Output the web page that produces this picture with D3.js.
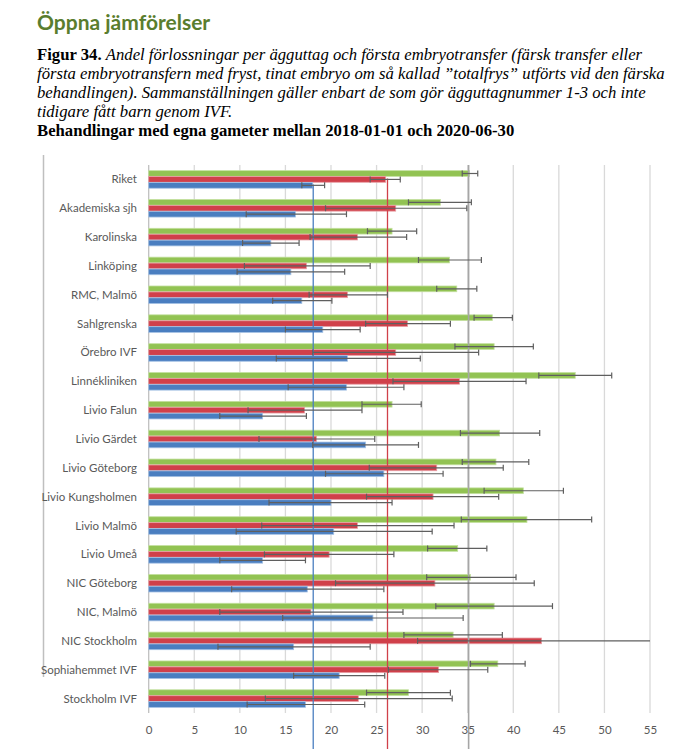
<!DOCTYPE html>
<html>
<head>
<meta charset="utf-8">
<script src="https://cdn.jsdelivr.net/npm/d3@7/dist/d3.min.js"></script>
<style>
  body { margin: 0; background: #fff; }
  svg { display: block; }
</style>
</head>
<body>
<svg id="chart"></svg>
<script>
"use strict";
// kliniker, uppifrån och ned
var categories = ["Riket", "Akademiska sjh", "Karolinska", "Linköping", "RMC, Malmö",
  "Sahlgrenska", "Örebro IVF", "Linnékliniken", "Livio Falun", "Livio Gärdet",
  "Livio Göteborg", "Livio Kungsholmen", "Livio Malmö", "Livio Umeå", "NIC Göteborg",
  "NIC, Malmö", "NIC Stockholm", "Sophiahemmet IVF", "Stockholm IVF"];

var greenValues = [35.2, 32.0, 26.7, 33.0, 33.8, 37.7, 37.9, 46.8, 26.7, 38.5, 38.1, 41.1, 41.5, 33.9, 35.3, 37.9, 33.4, 38.3, 28.5];
var greenLow    = [34.4, 28.5, 24.0, 29.6, 31.6, 35.7, 33.6, 42.8, 23.4, 34.2, 34.4, 36.8, 34.3, 30.6, 30.5, 31.5, 28.0, 35.3, 23.9];
var greenHigh   = [36.1, 35.4, 29.4, 36.5, 36.0, 39.9, 42.2, 50.8, 29.9, 42.9, 41.7, 45.5, 48.6, 37.1, 40.3, 44.3, 38.8, 41.3, 33.1];

var redValues = [26.0, 27.1, 22.9, 17.3, 21.8, 28.4, 27.1, 34.1, 17.1, 18.4, 31.6, 31.2, 22.9, 19.8, 31.4, 17.8, 43.1, 31.8, 23.0];
var redLow    = [24.3, 19.4, 17.7, 10.5, 17.6, 23.8, 18.0, 26.8, 10.9, 12.1, 24.2, 23.9, 12.4, 12.7, 20.5, 7.8, 29.5, 26.3, 12.8];
var redHigh   = [27.6, 34.9, 28.3, 24.3, 26.2, 33.1, 36.2, 41.4, 23.4, 24.8, 38.9, 38.4, 33.5, 26.9, 42.3, 27.9, 55.0, 37.2, 33.3];

var blueValues = [18.0, 16.1, 13.4, 15.6, 16.8, 19.1, 21.8, 21.7, 12.5, 23.8, 25.8, 20.0, 20.3, 12.5, 17.4, 24.6, 15.9, 20.9, 17.2];
var blueLow    = [16.8, 10.7, 10.3, 9.7, 13.6, 15.0, 14.0, 15.3, 7.8, 18.0, 19.4, 13.2, 9.6, 7.8, 9.1, 14.7, 7.6, 15.9, 10.8];
var blueHigh   = [19.3, 21.7, 16.5, 21.5, 20.1, 23.2, 29.8, 28.0, 17.3, 29.6, 32.3, 26.7, 31.1, 17.2, 25.8, 34.5, 24.3, 25.9, 23.7];

// riksgenomsnitt som referenslinjer
var refValues = [35.1, 26.2, 18.05];
var xTicks = [0, 5, 10, 15, 20, 25, 30, 35, 40, 45, 50, 55];

var W = 698, H = 749;
var plotLeft = 148.7, plotRight = 650, plotTop = 165, plotBottom = 713;

var svg = d3.select("#chart").attr("width", W).attr("height", H);

// rubrik
svg.append("text").attr("x", 37).attr("y", 30)
  .style("font-family", "Lato").style("font-weight", "700").style("font-size", "21px")
  .style("fill", "#5a7d2e").text("Öppna jämförelser");

var capLines = [
  "Andel förlossningar per ägguttag och första embryotransfer (färsk transfer eller",
  "första embryotransfern med fryst, tinat embryo om så kallad ”totalfrys” utförts vid den färska",
  "behandlingen). Sammanställningen gäller enbart de som gör ägguttagnummer 1-3 och inte",
  "tidigare fått barn genom IVF."
];
var cap = svg.append("g").style("font-family", "Liberation Serif").style("font-size", "16.7px").style("fill", "#000");
capLines.forEach(function(line, i) {
  var t = cap.append("text").attr("x", 37).attr("y", 60 + i * 19);
  if (i == 0) {
    t.append("tspan").style("font-weight", "bold").text("Figur 34. ");
  }
  t.append("tspan").style("font-style", "italic").text(line);
});
cap.append("text").attr("x", 37).attr("y", 136).style("font-weight", "bold")
  .text("Behandlingar med egna gameter mellan 2018-01-01 och 2020-06-30");

// ram till vänster
svg.append("line").attr("x1", 43.5).attr("x2", 43.5).attr("y1", 155).attr("y2", 677)
  .style("stroke", "#bfbfbf").style("stroke-width", 1.5);

var x = d3.scaleLinear().domain([0, 55]).range([plotLeft, plotRight]);
var y = d3.scaleBand().domain(categories).range([plotTop, plotBottom]).paddingInner(0.39).paddingOuter(0.195);
var series = ["green", "red", "blue"];
var ySub = d3.scaleBand().domain(series).range([0, y.bandwidth()]).paddingInner(0.03);

var colors = { green: "#92c353", red: "#d0404a", blue: "#4a7ec0" };
var edge = { green: "#c4e0a0", red: "#e8a0a6", blue: "#a6c2e4" };

// rutnät
svg.append("g").selectAll("line").data(xTicks).enter().append("line")
  .attr("x1", function(d) { return x(d); }).attr("x2", function(d) { return x(d); })
  .attr("y1", plotTop).attr("y2", plotBottom)
  .style("stroke", function(d) { return d == 0 ? "#bfbfbf" : "#d9d9d9"; })
  .style("stroke-width", 1.3);

var rows = [];
categories.forEach(function(c, i) {
  rows.push({ cat: c, s: "green", v: greenValues[i], lo: greenLow[i], hi: greenHigh[i] });
  rows.push({ cat: c, s: "red", v: redValues[i], lo: redLow[i], hi: redHigh[i] });
  rows.push({ cat: c, s: "blue", v: blueValues[i], lo: blueLow[i], hi: blueHigh[i] });
});

svg.append("g").selectAll("rect").data(rows).enter().append("rect")
  .attr("x", x(0))
  .attr("y", function(d) { return y(d.cat) + ySub(d.s); })
  .attr("width", function(d) { return x(d.v) - x(0); })
  .attr("height", ySub.bandwidth())
  .style("fill", function(d) { return colors[d.s]; })
  .style("stroke", function(d) { return edge[d.s]; })
  .style("stroke-width", 0.8);

// referenslinjer
var refColors = ["#a6a6a6", "#d0404a", "#4a7ec0"];
var refStart = [plotTop, y(categories[0]) + ySub("red") + 2, y(categories[0]) + ySub("blue") + 2];
svg.append("g").selectAll("line").data(refValues).enter().append("line")
  .attr("x1", function(d) { return x(d); }).attr("x2", function(d) { return x(d); })
  .attr("y1", function(d, i) { return refStart[i]; }).attr("y2", H)
  .style("stroke", function(d, i) { return refColors[i]; })
  .style("stroke-width", function(d, i) { return i == 0 ? 1.6 : 1.3; });

// felstaplar
var err = svg.append("g").style("stroke", "#5f5f5f").style("stroke-width", 1.2);
rows.forEach(function(d) {
  var cy = y(d.cat) + ySub(d.s) + ySub.bandwidth() / 2;
  err.append("line").attr("x1", x(d.lo)).attr("x2", x(d.hi)).attr("y1", cy).attr("y2", cy);
  err.append("line").attr("x1", x(d.lo)).attr("x2", x(d.lo)).attr("y1", cy - 3).attr("y2", cy + 3);
  if (d.hi < 55) {
    err.append("line").attr("x1", x(d.hi)).attr("x2", x(d.hi)).attr("y1", cy - 3).attr("y2", cy + 3);
  }
});

// kategorietiketter
svg.append("g").selectAll("text").data(categories).enter().append("text")
  .attr("x", 137).attr("y", function(d) { return y(d) + y.bandwidth() / 2; })
  .attr("dy", "0.35em").attr("text-anchor", "end")
  .style("font-family", "Lato").style("font-size", "11.5px").style("fill", "#595959")
  .text(function(d) { return d; });

// x-axel
var xAxis = d3.axisBottom(x).tickValues(xTicks).tickSize(0).tickPadding(0);
var ax = svg.append("g").attr("transform", "translate(0," + 730 + ")").call(xAxis);
ax.select(".domain").remove();
ax.selectAll("text").attr("dy", "0.35em").attr("y", 0)
  .style("font-family", "Lato").style("font-size", "11.5px").style("fill", "#595959");
</script>
</body>
</html>
